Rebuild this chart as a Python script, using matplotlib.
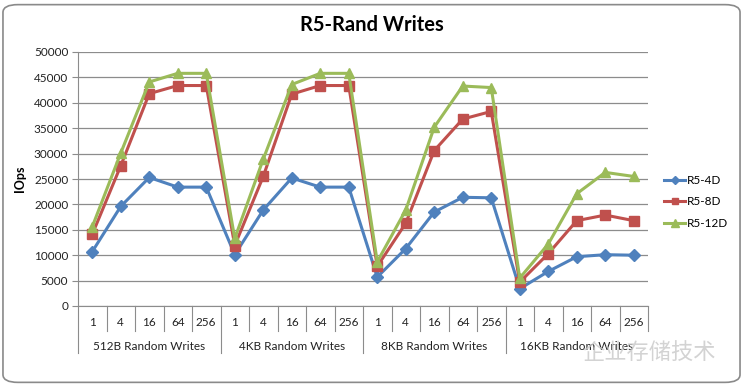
import matplotlib
matplotlib.use("Agg")
import matplotlib.pyplot as plt
from matplotlib.patches import FancyBboxPatch
import numpy as np

plt.rcParams['font.family'] = ['Lato', 'DejaVu Sans']

# chart data
groups = ["512B Random Writes", "4KB Random Writes", "8KB Random Writes", "16KB Random Writes"]
queue_depths = ["1", "4", "16", "64", "256"]
r5_4d = [10700, 19600, 25300, 23400, 23400,
         10100, 18900, 25200, 23400, 23400,
         5700, 11300, 18500, 21400, 21300,
         3400, 6800, 9700, 10100, 10000]
r5_8d = [14100, 27600, 41800, 43400, 43400,
         11900, 25500, 41700, 43400, 43400,
         7800, 16300, 30600, 36800, 38300,
         4700, 10300, 16800, 17900, 16800]
r5_12d = [15600, 30100, 44100, 45800, 45800,
          13300, 28900, 43600, 45800, 45800,
          8700, 18900, 35200, 43300, 43000,
          5500, 12200, 22100, 26300, 25500]
yticks = list(range(0, 50001, 5000))

BLUE = "#4F81BD"
RED = "#C0504D"
GREEN = "#9BBB59"
GRID = "#8C8C8C"

fig = plt.figure(figsize=(7.43, 3.87), dpi=100)
ax = fig.add_axes([78 / 743, 81 / 387, 570 / 743, 254 / 387])

n = len(groups) * len(queue_depths)
x = np.arange(n)
series = [("R5-4D", r5_4d, BLUE, "D", 6),
          ("R5-8D", r5_8d, RED, "s", 7),
          ("R5-12D", r5_12d, GREEN, "^", 7.5)]
for name, vals, col, mk, ms in series:
    ax.plot(x, vals, color=col, marker=mk, markersize=ms, linewidth=2.2,
            label=name, zorder=3)

ax.set_xlim(-0.5, n - 0.5)
ax.set_ylim(0, 50000)
ax.set_yticks(yticks)
ax.set_yticklabels([str(v) for v in yticks], fontsize=8.5, color="#222222")
ax.grid(axis="y", color=GRID, linewidth=0.9)
ax.set_axisbelow(True)
for s in ["top", "right"]:
    ax.spines[s].set_visible(False)
ax.spines["left"].set_color(GRID)
ax.spines["bottom"].set_color(GRID)
ax.tick_params(axis="y", length=4, color=GRID, pad=3)
ax.set_xticks([])
ax.set_ylabel("IOps", fontsize=9, fontweight="bold", labelpad=6)

# category table under x axis
tr = ax.get_xaxis_transform()
px = 1 / 254  # one pixel in axes height units
for i in range(n):
    ax.text(i, -16 * px, queue_depths[i % len(queue_depths)], transform=tr,
            ha="center", va="center", fontsize=8.5, color="#222222")
for b in range(n + 1):
    edge = b - 0.5
    long_line = (b % len(queue_depths) == 0) and b < n
    bottom = -47 * px if long_line else -25 * px
    ax.plot([edge, edge], [0, bottom], transform=tr, color=GRID,
            linewidth=0.8, clip_on=False)
for g, name in enumerate(groups):
    center = g * len(queue_depths) + (len(queue_depths) - 1) / 2
    ax.text(center, -40 * px, name, transform=tr, ha="center", va="center",
            fontsize=8.5, color="#222222", zorder=2)

ax.legend(loc="center left", bbox_to_anchor=(1.02, 0.41), frameon=False,
          fontsize=8.5, handlelength=1.8, labelspacing=0.9, handletextpad=0.1,
          markerscale=0.7, borderaxespad=0)

fig.text(0.5, 0.935, "R5-Rand Writes", ha="center", va="center",
         fontsize=14.5, fontweight="bold")

# watermark
fig.text(0.873, 0.09, "企业存储技术", ha="center", va="center", fontsize=16,
         color="#C8C8C8", alpha=0.8, zorder=5,
         family=["Noto Sans CJK SC", "DejaVu Sans"])

border = FancyBboxPatch((0.004, 0.012), 0.992, 0.976,
                        boxstyle="round,pad=0,rounding_size=0.02",
                        transform=fig.transFigure, fill=False,
                        edgecolor="#8A8A8A", linewidth=1.2)
fig.patches.append(border)

fig.savefig("out.png", dpi=100)
